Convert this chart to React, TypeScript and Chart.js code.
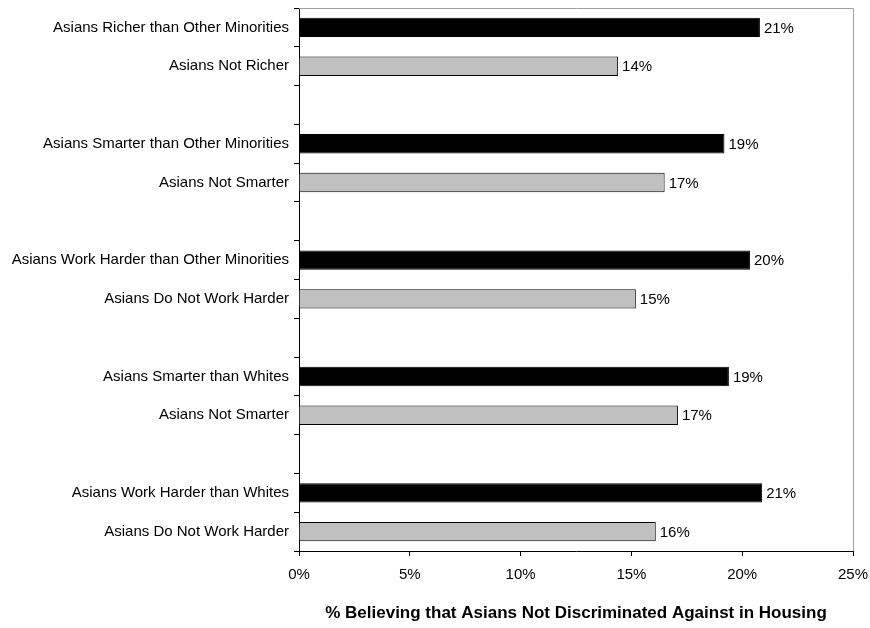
import React, { useEffect, useRef } from "react";
import { Chart, registerables } from "chart.js";

Chart.register(...registerables);

const categories: string[] = [
  "Asians Richer than Other Minorities",
  "Asians Not Richer",
  "",
  "Asians Smarter than Other Minorities",
  "Asians Not Smarter",
  "",
  "Asians Work Harder than Other Minorities",
  "Asians Do Not Work Harder",
  "",
  "Asians Smarter than Whites",
  "Asians Not Smarter",
  "",
  "Asians Work Harder than Whites",
  "Asians Do Not Work Harder",
];

const values: (number | null)[] = [
  20.8, 14.4, null,
  19.2, 16.5, null,
  20.35, 15.2, null,
  19.4, 17.1, null,
  20.9, 16.1,
];

const barColors: string[] = [
  "#000000", "#c0c0c0", "#000000",
  "#000000", "#c0c0c0", "#000000",
  "#000000", "#c0c0c0", "#000000",
  "#000000", "#c0c0c0", "#000000",
  "#000000", "#c0c0c0",
];

const xTicks: number[] = [0, 5, 10, 15, 20, 25];
const xTitle = "% Believing that Asians Not Discriminated Against in Housing";

const FONT = "'Liberation Sans', Arial, sans-serif";
const FS = 15;

const labelPlugin = {
  id: "barLabels",
  afterDatasetsDraw(chart: any) {
    const ctx = chart.ctx;
    const meta = chart.getDatasetMeta(0);
    ctx.save();
    ctx.font = `${FS}px ${FONT}`;
    ctx.fillStyle = "#000";
    ctx.textAlign = "left";
    ctx.textBaseline = "middle";
    meta.data.forEach((el: any, i: number) => {
      const v = values[i];
      if (v === null || v === undefined) return;
      ctx.fillText(Math.round(v) + "%", el.x + 4, el.y + 1);
    });
    ctx.restore();
  },
};

const framePlugin = {
  id: "frame",
  beforeDatasetsDraw(chart: any) {
    const { ctx, chartArea } = chart;
    ctx.save();
    ctx.strokeStyle = "#a0a0a0";
    ctx.lineWidth = 1;
    ctx.beginPath();
    ctx.moveTo(chartArea.left, chartArea.top + 0.5);
    ctx.lineTo(chartArea.right + 0.5, chartArea.top + 0.5);
    ctx.lineTo(chartArea.right + 0.5, chartArea.bottom);
    ctx.stroke();
    ctx.restore();
  },
};

export default function App() {
  const ref = useRef<HTMLCanvasElement | null>(null);

  useEffect(() => {
    if (!ref.current) return;
    const chart = new Chart(ref.current, {
      type: "bar",
      data: {
        labels: categories,
        datasets: [
          {
            data: values as any,
            backgroundColor: barColors,
            borderColor: "#000000",
            borderWidth: 1,
            barPercentage: 0.5,
            categoryPercentage: 1.0,
          },
        ],
      },
      options: {
        indexAxis: "y",
        responsive: false,
        animation: false,
        layout: { padding: { top: 8, right: 17, left: 0, bottom: 0 } },
        plugins: {
          legend: { display: false },
          tooltip: { enabled: false },
        },
        scales: {
          y: {
            type: "category",
            afterFit: (s: any) => {
              s.width = 299;
              s.paddingTop = 0;
              s.paddingBottom = 0;
            },
            border: { display: true, color: "#000", width: 1 },
            grid: {
              display: true,
              offset: true,
              drawOnChartArea: false,
              drawTicks: true,
              tickLength: 5,
              color: "#000",
            },
            ticks: {
              color: "#000",
              padding: 5,
              autoSkip: false,
              font: { family: FONT, size: FS },
            },
          },
          x: {
            type: "linear",
            min: 0,
            max: 25,
            afterFit: (s: any) => {
              s.height = 77;
              s.paddingLeft = 0;
              s.paddingRight = 0;
            },
            afterBuildTicks: (s: any) => {
              s.ticks = xTicks.map((v) => ({ value: v }));
            },
            border: { display: true, color: "#000", width: 1 },
            grid: {
              display: true,
              drawOnChartArea: false,
              drawTicks: true,
              tickLength: 5,
              color: "#000",
            },
            ticks: {
              color: "#000",
              padding: 10,
              maxRotation: 0,
              font: { family: FONT, size: FS },
              callback: (v: any) => v + "%",
            },
            title: {
              display: true,
              text: xTitle,
              color: "#000",
              font: { family: FONT, size: 17, weight: "bold" },
              padding: { top: 0, bottom: 4 },
            },
          },
        },
      },
      plugins: [framePlugin, labelPlugin],
    });
    return () => chart.destroy();
  }, []);

  return (
    <div style={{ position: "absolute", left: 0, top: 0, width: 870, height: 628, background: "#fff" }}>
      <canvas ref={ref} width={870} height={628} style={{ display: "block" }} />
    </div>
  );
}
